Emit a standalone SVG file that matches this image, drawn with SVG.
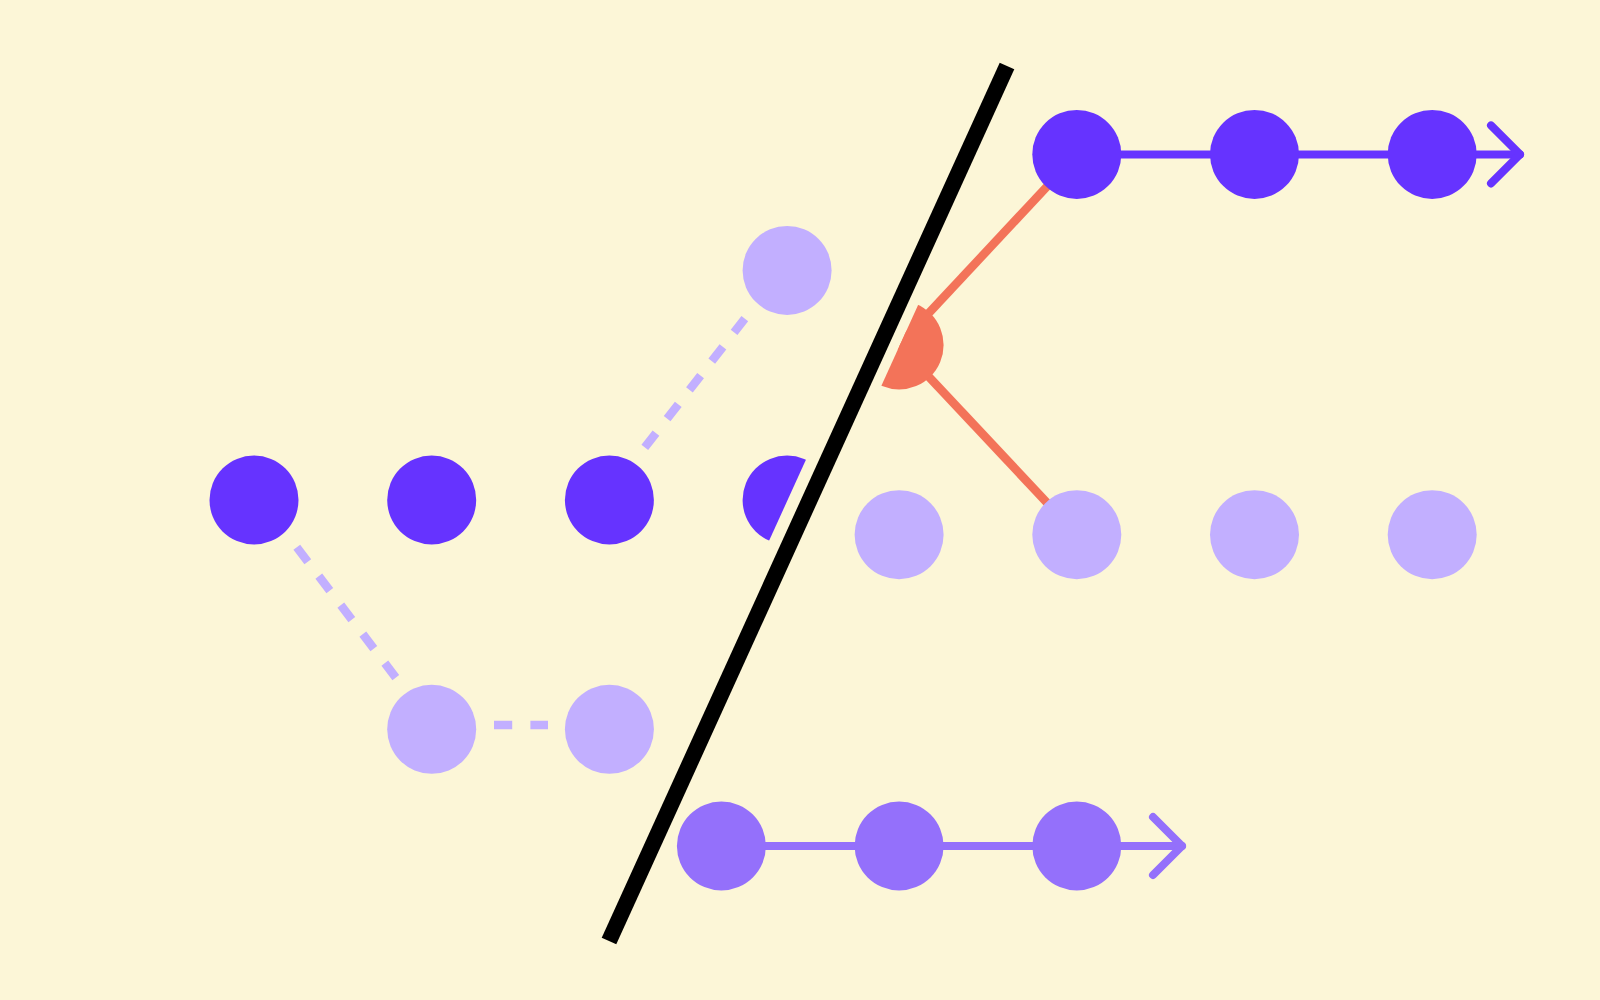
<svg xmlns="http://www.w3.org/2000/svg" width="1600" height="1000" viewBox="0 0 1600 1000">
  <style>
    .dark { fill: #6633FF; }
    .light { fill: #C2AFFF; }
    .mid { fill: #9470FB; }
    .orange { fill: #F37359; }
    .dash { stroke: #C2AFFF; stroke-width: 8.5; stroke-dasharray: 18.2 18.2; fill: none; }
    .oline { stroke: #F37359; stroke-width: 8.5; fill: none; }
    .darkline { stroke: #6633FF; stroke-width: 8; fill: none; stroke-linecap: round; stroke-linejoin: round; }
    .midline { stroke: #9470FB; stroke-width: 8; fill: none; stroke-linecap: round; stroke-linejoin: round; }
  </style>
  <defs>
    <clipPath id="clipRight">
      <polygon points="1023.4,73.5 1600,73.5 1600,948.5 625.4,948.5"/>
    </clipPath>
    <clipPath id="clipLeft">
      <polygon points="988.8,57.7 590.8,932.7 0,932.7 0,57.7"/>
    </clipPath>
  </defs>
  <rect x="0" y="0" width="1600" height="1000" fill="#FCF6D7"/>

  <g id="connectors">
    <line class="dash" x1="296.8" y1="547.2" x2="395.8" y2="677.6"/>
    <line class="dash" x1="644.8" y1="447.4" x2="744.8" y2="318.6"/>
    <line class="dash" x1="494" y1="725" x2="548" y2="725"/>
    <g clip-path="url(#clipRight)">
      <line class="oline" x1="899" y1="345" x2="1077" y2="154.4"/>
      <line class="oline" x1="899" y1="345" x2="1077" y2="534.7"/>
    </g>
    <line class="darkline" x1="1077" y1="154.4" x2="1520" y2="154.4"/>
    <path class="darkline" d="M1491,125.4 L1520,154.4 L1491,183.4"/>
    <line class="midline" x1="721.4" y1="846" x2="1182" y2="846"/>
    <path class="midline" d="M1153,817 L1182,846 L1153,875"/>
  </g>

  <g id="separator">
    <line x1="1007" y1="66" x2="609" y2="941" stroke="#000000" stroke-width="16"/>
  </g>

  <g id="node-m1"><circle class="dark" cx="254" cy="500" r="44.5"/></g>
  <g id="node-m2"><circle class="dark" cx="431.7" cy="500" r="44.5"/></g>
  <g id="node-m3"><circle class="dark" cx="609.4" cy="500" r="44.5"/></g>
  <g id="node-m4"><circle class="dark" cx="787.1" cy="500" r="44.5" clip-path="url(#clipLeft)"/></g>
  <g id="node-branch-top"><circle class="light" cx="787.1" cy="270.4" r="44.5"/></g>
  <g id="node-branch-b1"><circle class="light" cx="431.7" cy="729.3" r="44.5"/></g>
  <g id="node-branch-b2"><circle class="light" cx="609.4" cy="729.3" r="44.5"/></g>
  <g id="node-merge"><circle class="orange" cx="899.1" cy="345" r="44.5" clip-path="url(#clipRight)"/></g>
  <g id="node-t1"><circle class="dark" cx="1076.8" cy="154.4" r="44.5"/></g>
  <g id="node-t2"><circle class="dark" cx="1254.5" cy="154.4" r="44.5"/></g>
  <g id="node-t3"><circle class="dark" cx="1432.2" cy="154.4" r="44.5"/></g>
  <g id="node-r1"><circle class="light" cx="899.1" cy="534.7" r="44.5"/></g>
  <g id="node-r2"><circle class="light" cx="1076.8" cy="534.7" r="44.5"/></g>
  <g id="node-r3"><circle class="light" cx="1254.5" cy="534.7" r="44.5"/></g>
  <g id="node-r4"><circle class="light" cx="1432.2" cy="534.7" r="44.5"/></g>
  <g id="node-b1"><circle class="mid" cx="721.4" cy="846" r="44.5"/></g>
  <g id="node-b2"><circle class="mid" cx="899.1" cy="846" r="44.5"/></g>
  <g id="node-b3"><circle class="mid" cx="1076.8" cy="846" r="44.5"/></g>
</svg>
